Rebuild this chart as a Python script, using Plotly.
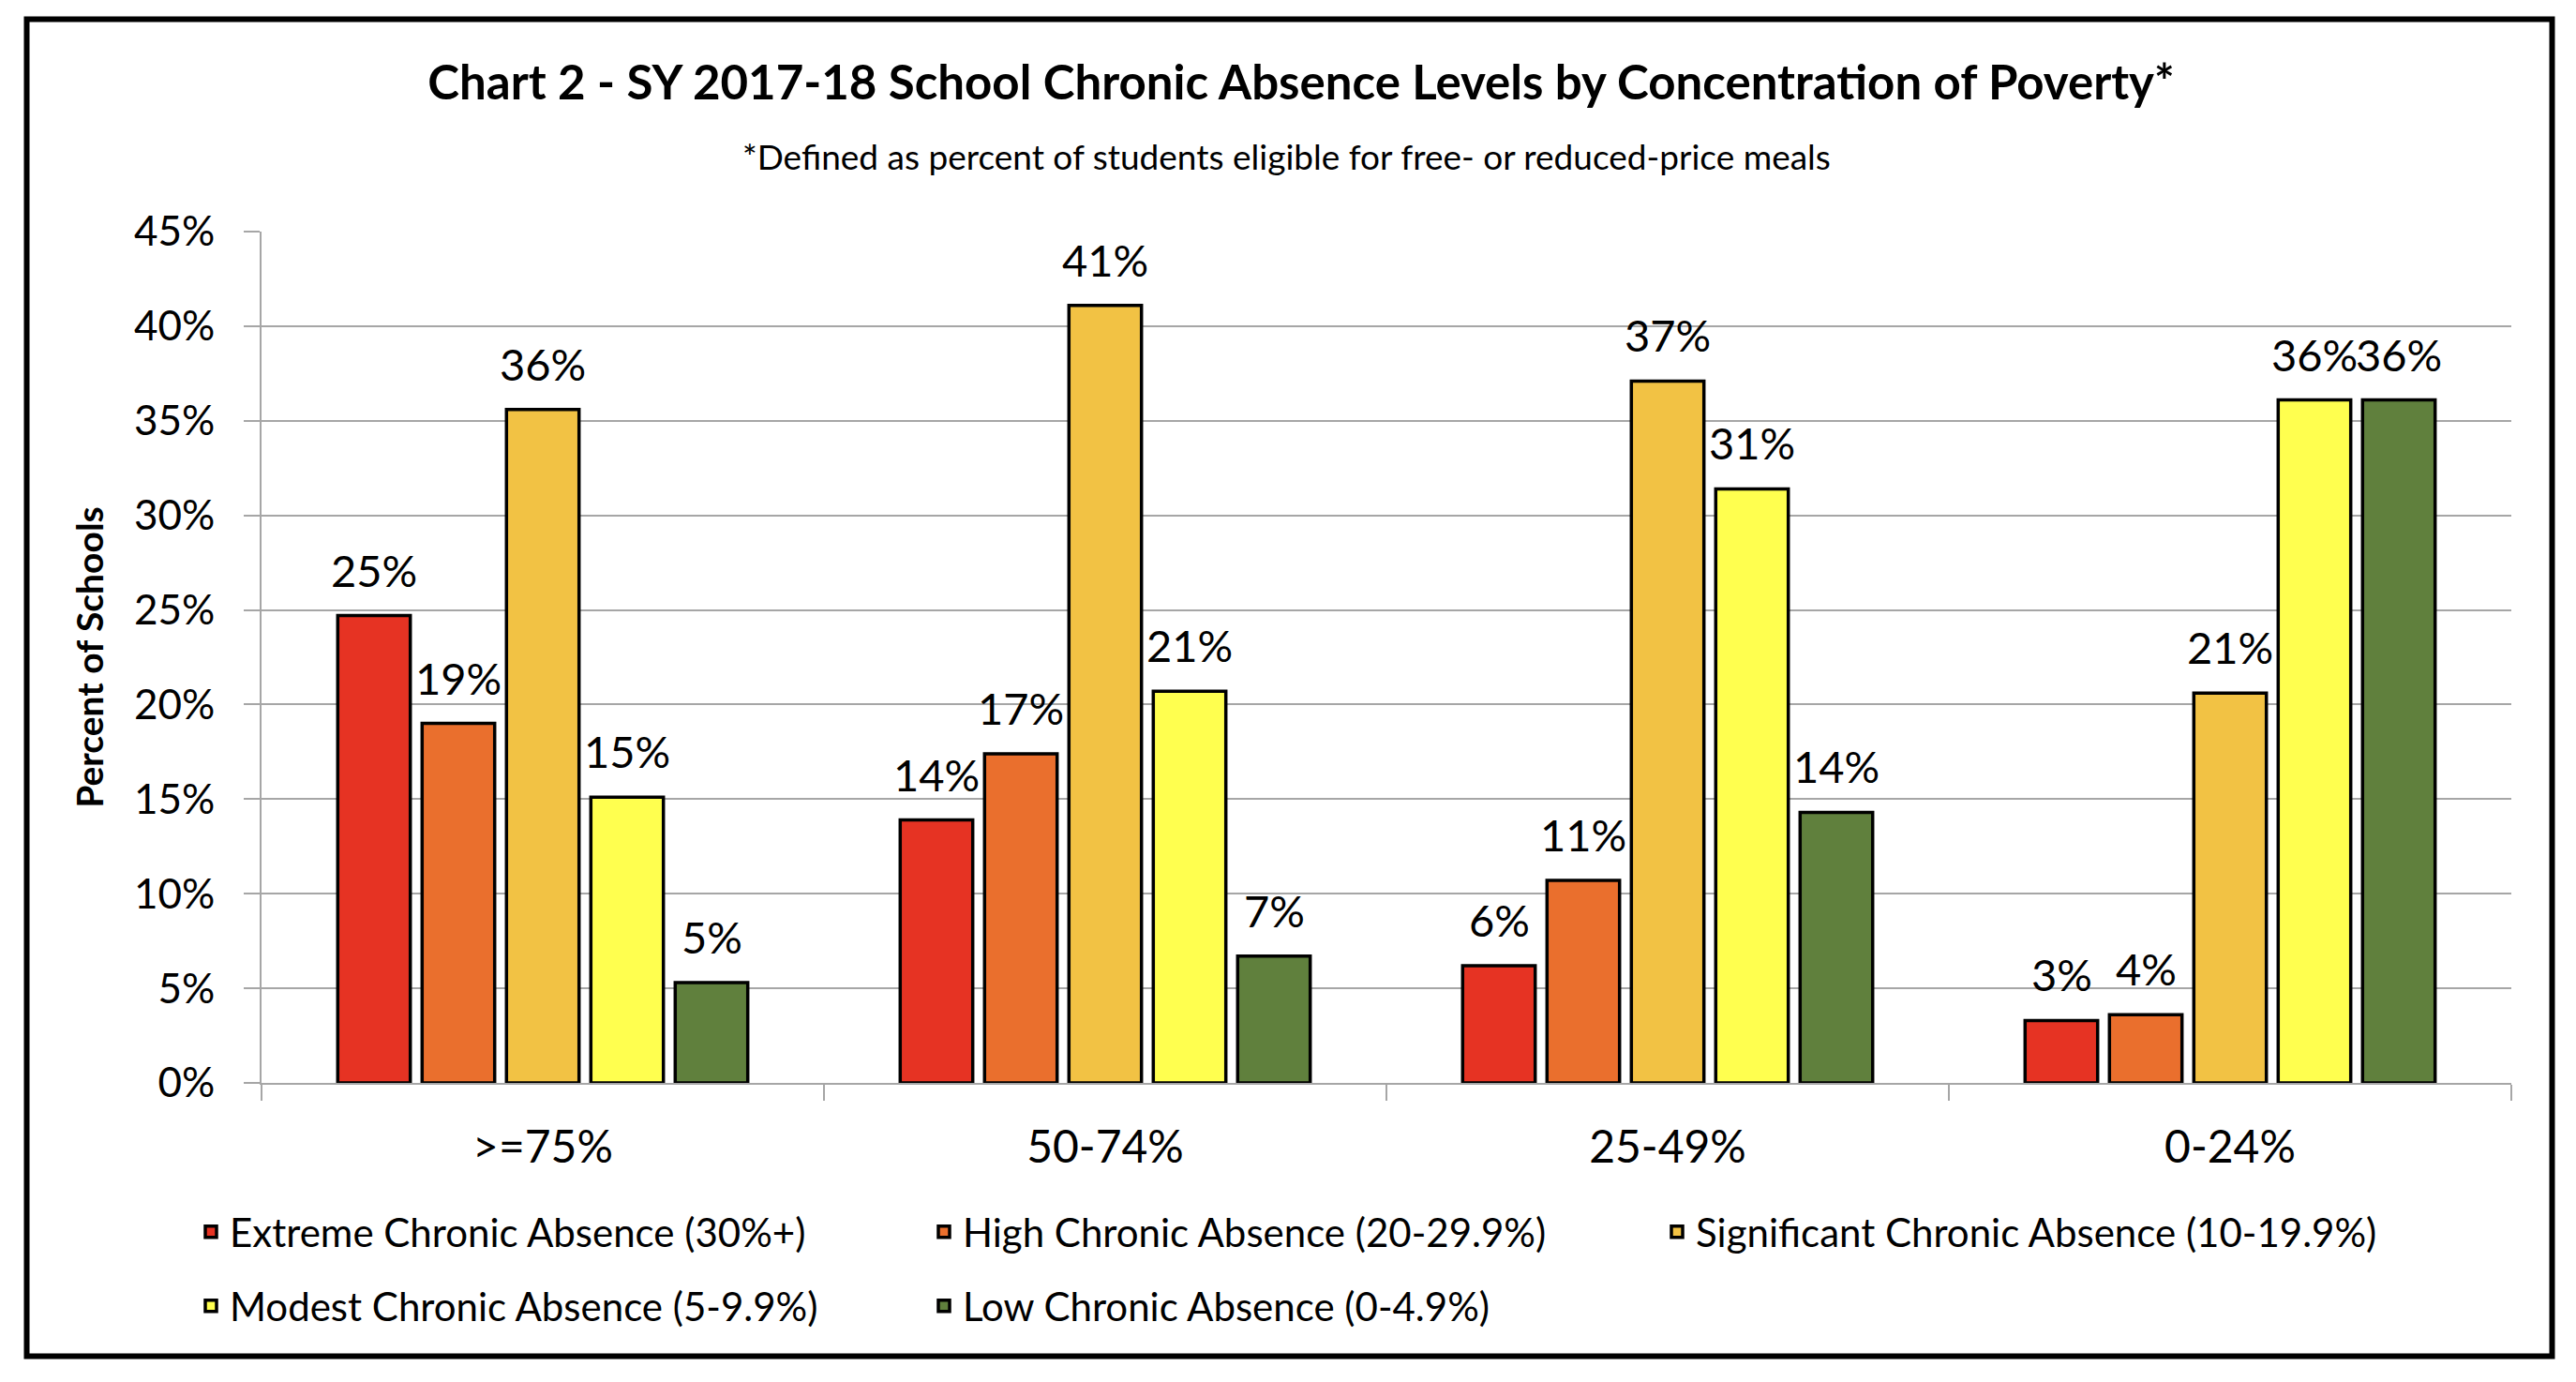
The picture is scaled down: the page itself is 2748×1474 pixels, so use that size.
import plotly.graph_objects as go

categories = [">=75%", "50-74%", "25-49%", "0-24%"]
series_names = [
    "Extreme Chronic Absence (30%+)",
    "High Chronic Absence (20-29.9%)",
    "Significant Chronic Absence (10-19.9%)",
    "Modest Chronic Absence (5-9.9%)",
    "Low Chronic Absence (0-4.9%)",
]
extreme = [0.247, 0.139, 0.062, 0.033]
high = [0.190, 0.174, 0.107, 0.036]
significant = [0.356, 0.411, 0.371, 0.206]
modest = [0.151, 0.207, 0.314, 0.361]
low = [0.053, 0.067, 0.143, 0.361]
series_values = [extreme, high, significant, modest, low]
colors = ["#E63323", "#EA6F2D", "#F2C244", "#FFFF4F", "#60803D"]
legend_ids = ["legend", "legend", "legend", "legend2", "legend2"]

FONT = "Lato"
OFF = 8                      # default page body margin
PAGE_W, PAGE_H = 2748, 1474
W, H = PAGE_W - 2 * OFF, PAGE_H - 2 * OFF
# plot area in page pixels
PX0, PX1, PY0, PY1 = 279, 2679, 247, 1155
L, R, T, B = PX0 - OFF, W - (PX1 - OFF), PY0 - OFF, H - (PY1 - OFF)
pw, ph = W - L - R, H - T - B
BARGAP, GROUPGAP = 0.25, 0.14


def px_x(x):
    return (x - OFF - L) / pw


def px_y(y):
    return (H - B - (y - OFF)) / ph


fig = go.Figure()
for name, vals, col, lg in zip(series_names, series_values, colors, legend_ids):
    fig.add_trace(go.Bar(
        x=categories, y=vals, name=name, legend=lg,
        marker=dict(color=col, line=dict(color="black", width=3.5)),
    ))

# data labels above each bar (anchored on the data through the axes)
n = len(series_values)
slot = pw / len(categories) * (1 - BARGAP) / n
for i, vals in enumerate(series_values):
    for c, v in zip(categories, vals):
        fig.add_annotation(
            x=c, y=v, xref="x", yref="y", text=f"{v:.0%}",
            showarrow=False, xanchor="center", yanchor="middle",
            xshift=(i - (n - 1) / 2) * slot, yshift=49,
            font=dict(family=FONT, size=47, color="black"),
        )

legend_common = dict(
    orientation="h", xanchor="left", yanchor="middle",
    font=dict(family=FONT, size=42, color="black"),
    entrywidth=737, entrywidthmode="pixels",
    traceorder="normal", bgcolor="rgba(0,0,0,0)",
)

fig.update_layout(
    width=W, height=H,
    margin=dict(l=L, r=R, t=T, b=B, autoexpand=False),
    paper_bgcolor="white", plot_bgcolor="white",
    barmode="group", bargap=BARGAP, bargroupgap=GROUPGAP,
    font=dict(family=FONT, color="black"),
    title=dict(
        text="<b>Chart 2 - SY 2017-18 School Chronic Absence Levels by Concentration of Poverty*</b>",
        font=dict(family=FONT, size=51, color="black"),
        x=(1388 - OFF) / W, xanchor="center", xref="container",
        y=1 - (88 - OFF) / H, yanchor="middle", yref="container",
    ),
    legend=dict(x=px_x(205), y=px_y(1314), **legend_common),
    legend2=dict(x=px_x(205), y=px_y(1393), **legend_common),
    showlegend=True,
)

fig.add_annotation(
    text="*Defined as percent of students eligible for free- or reduced-price meals",
    xref="paper", yref="paper", x=px_x(1372), y=px_y(166),
    xanchor="center", yanchor="middle", showarrow=False,
    font=dict(family=FONT, size=37, color="black"),
)

fig.update_yaxes(
    range=[0, 0.45], dtick=0.05, tickformat=".0%",
    showgrid=True, gridcolor="#A6A6A6", gridwidth=2,
    showline=True, linecolor="#A6A6A6", linewidth=2,
    ticks="outside", ticklen=17, tickcolor="#A6A6A6", tickwidth=2,
    tickfont=dict(family=FONT, size=44, color="black"),
    ticklabelstandoff=22,
    zeroline=False,
    title=dict(text="<b>Percent of Schools</b>", font=dict(family=FONT, size=39, color="black"), standoff=20),
)
fig.update_xaxes(
    showline=True, linecolor="#A6A6A6", linewidth=2,
    ticks="outside", ticklen=17, tickcolor="#A6A6A6", tickwidth=2,
    tickson="boundaries",
    tickfont=dict(family=FONT, size=48, color="black"),
    ticklabelstandoff=25,
)

fig.add_shape(
    type="rect", xref="paper", yref="paper",
    x0=px_x(28.5), x1=px_x(2722.5), y0=px_y(1446.5), y1=px_y(20.5),
    line=dict(color="black", width=6), fillcolor="rgba(0,0,0,0)", layer="above",
)

fig.write_html("out.html")
